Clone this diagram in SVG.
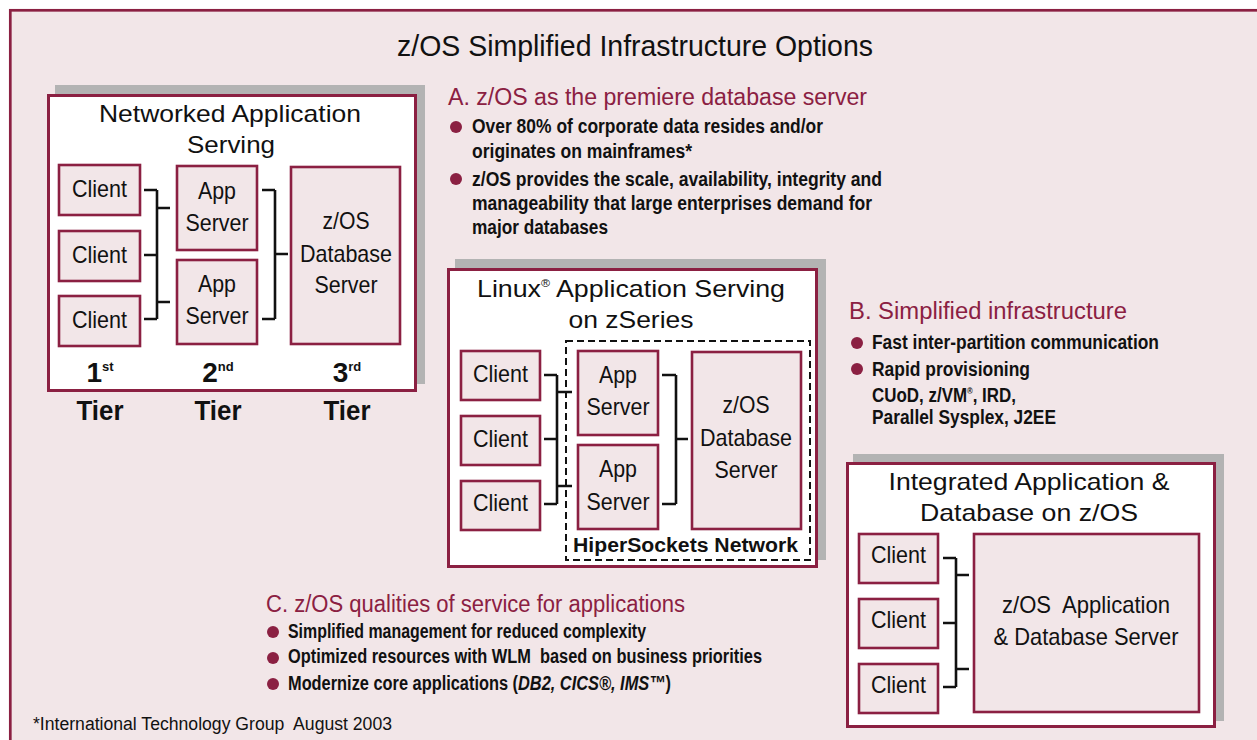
<svg xmlns="http://www.w3.org/2000/svg" width="1257" height="740" viewBox="0 0 1257 740">
<style>
text{font-family:"Liberation Sans",Arial,Helvetica,sans-serif;fill:#111}
.frame{fill:#fff;stroke:#8B2042;stroke-width:3}
.shadow{fill:#b3b3b3}
.node{fill:#F2E6E8;stroke:#8B2042;stroke-width:2.6}
.lbl{font-size:24px;text-anchor:middle}
.ttl{font-size:24px;text-anchor:middle}
.tier{font-size:28px;font-weight:bold;text-anchor:middle}
.head{font-size:23.5px;fill:#8B2042}
.bul{font-size:20px;font-weight:bold}
.dot{fill:#8B2042}
.conn{fill:none;stroke:#111;stroke-width:2.6}
</style>
<rect x="0" y="0" width="1257" height="740" fill="#fff"/>
<rect x="10.3" y="10.3" width="1260" height="740" fill="#F2E6E8" stroke="#8B2042" stroke-width="2.7"/>
<text x="635" y="56" font-size="29" text-anchor="middle" textLength="476" lengthAdjust="spacingAndGlyphs">z/OS Simplified Infrastructure Options</text>

<g id="networked">
<rect class="shadow" x="55" y="85" width="370" height="299"/>
<rect class="frame" x="48.5" y="95.5" width="367" height="295"/>
<text class="ttl" x="230" y="122" textLength="262" lengthAdjust="spacingAndGlyphs">Networked Application</text>
<text class="ttl" x="231" y="153" textLength="88" lengthAdjust="spacingAndGlyphs">Serving</text>
<text class="tier" x="100" y="382">1<tspan font-size="13" dy="-11">st</tspan></text>
<text class="tier" x="218" y="382">2<tspan font-size="13" dy="-11">nd</tspan></text>
<text class="tier" x="347" y="382">3<tspan font-size="13" dy="-11">rd</tspan></text>
<text class="tier" x="100" y="420" textLength="47" lengthAdjust="spacingAndGlyphs">Tier</text>
<text class="tier" x="218" y="420" textLength="47" lengthAdjust="spacingAndGlyphs">Tier</text>
<text class="tier" x="347" y="420" textLength="47" lengthAdjust="spacingAndGlyphs">Tier</text>
</g>
<g id="n-client1"><rect class="node" x="59" y="165" width="81" height="50"/><text class="lbl" x="99.5" y="197" textLength="55" lengthAdjust="spacingAndGlyphs">Client</text></g>
<g id="n-client2"><rect class="node" x="59" y="231" width="81" height="50"/><text class="lbl" x="99.5" y="263" textLength="55" lengthAdjust="spacingAndGlyphs">Client</text></g>
<g id="n-client3"><rect class="node" x="59" y="296" width="81" height="50"/><text class="lbl" x="99.5" y="328" textLength="55" lengthAdjust="spacingAndGlyphs">Client</text></g>
<g id="n-app1"><rect class="node" x="177" y="166" width="80" height="84"/><text class="lbl" x="217" y="199" textLength="38" lengthAdjust="spacingAndGlyphs">App</text><text class="lbl" x="217" y="231" textLength="63" lengthAdjust="spacingAndGlyphs">Server</text></g>
<g id="n-app2"><rect class="node" x="177" y="260" width="80" height="84"/><text class="lbl" x="217" y="292" textLength="38" lengthAdjust="spacingAndGlyphs">App</text><text class="lbl" x="217" y="324" textLength="63" lengthAdjust="spacingAndGlyphs">Server</text></g>
<g id="n-db"><rect class="node" x="291" y="167" width="109" height="177"/><text class="lbl" x="346" y="229" textLength="47" lengthAdjust="spacingAndGlyphs">z/OS</text><text class="lbl" x="346" y="262" textLength="92" lengthAdjust="spacingAndGlyphs">Database</text><text class="lbl" x="346" y="293" textLength="63" lengthAdjust="spacingAndGlyphs">Server</text></g>

<g id="linux">
<rect class="shadow" x="455" y="259" width="371" height="301"/>
<rect class="frame" x="448.5" y="269.5" width="368" height="297"/>
<text class="ttl" x="631" y="297" textLength="308" lengthAdjust="spacingAndGlyphs">Linux<tspan font-size="11" dy="-10">®</tspan><tspan dy="10"> Application Serving</tspan></text>
<text class="ttl" x="631" y="328" textLength="125" lengthAdjust="spacingAndGlyphs">on zSeries</text>
<rect x="566" y="341" width="244" height="219" fill="none" stroke="#111" stroke-width="2" stroke-dasharray="7,4"/>
<text x="573" y="552" font-size="20" font-weight="bold" textLength="225" lengthAdjust="spacingAndGlyphs">HiperSockets Network</text>
</g>
<g id="l-client1"><rect class="node" x="461" y="351" width="79" height="49"/><text class="lbl" x="500.5" y="382" textLength="55" lengthAdjust="spacingAndGlyphs">Client</text></g>
<g id="l-client2"><rect class="node" x="461" y="416" width="79" height="49"/><text class="lbl" x="500.5" y="447" textLength="55" lengthAdjust="spacingAndGlyphs">Client</text></g>
<g id="l-client3"><rect class="node" x="461" y="481" width="79" height="49"/><text class="lbl" x="500.5" y="511" textLength="55" lengthAdjust="spacingAndGlyphs">Client</text></g>
<g id="l-app1"><rect class="node" x="578" y="351" width="80" height="84"/><text class="lbl" x="618" y="383" textLength="38" lengthAdjust="spacingAndGlyphs">App</text><text class="lbl" x="618" y="415" textLength="63" lengthAdjust="spacingAndGlyphs">Server</text></g>
<g id="l-app2"><rect class="node" x="578" y="445" width="80" height="84"/><text class="lbl" x="618" y="477" textLength="38" lengthAdjust="spacingAndGlyphs">App</text><text class="lbl" x="618" y="510" textLength="63" lengthAdjust="spacingAndGlyphs">Server</text></g>
<g id="l-db"><rect class="node" x="692" y="352" width="109" height="177"/><text class="lbl" x="746" y="413" textLength="47" lengthAdjust="spacingAndGlyphs">z/OS</text><text class="lbl" x="746" y="446" textLength="92" lengthAdjust="spacingAndGlyphs">Database</text><text class="lbl" x="746" y="478" textLength="63" lengthAdjust="spacingAndGlyphs">Server</text></g>

<g id="integrated">
<rect class="shadow" x="853" y="454" width="371" height="267"/>
<rect class="frame" x="847.5" y="463.5" width="367" height="263"/>
<text class="ttl" x="1029" y="490" textLength="281" lengthAdjust="spacingAndGlyphs">Integrated Application &amp;</text>
<text class="ttl" x="1029" y="521" textLength="218" lengthAdjust="spacingAndGlyphs">Database on z/OS</text>
</g>
<g id="i-client1"><rect class="node" x="859" y="534" width="79" height="49"/><text class="lbl" x="898.5" y="563" textLength="55" lengthAdjust="spacingAndGlyphs">Client</text></g>
<g id="i-client2"><rect class="node" x="859" y="599" width="79" height="49"/><text class="lbl" x="898.5" y="628" textLength="55" lengthAdjust="spacingAndGlyphs">Client</text></g>
<g id="i-client3"><rect class="node" x="859" y="664" width="79" height="49"/><text class="lbl" x="898.5" y="693" textLength="55" lengthAdjust="spacingAndGlyphs">Client</text></g>
<g id="i-server"><rect class="node" x="974" y="534" width="225" height="178"/><text class="lbl" x="1086" y="613" textLength="168" lengthAdjust="spacingAndGlyphs">z/OS&#160; Application</text><text class="lbl" x="1086" y="645" textLength="185" lengthAdjust="spacingAndGlyphs">&amp; Database Server</text></g>

<g id="connectors">
<path class="conn" d="M144 190H157M144 255H157M144 319H157M157 190V319M157 208H170M157 302H170M262 190H275M262 319H275M275 190V319M275 254H288"/>
<path class="conn" d="M544 375H557M544 439H557M544 504H557M557 375V504M557 392H572M557 486H572M662 375H676M662 504H676M676 375V504M676 439H688"/>
<path class="conn" d="M943 558H956M943 623H956M943 687H956M956 558V687M956 575H969M956 669H969"/>
</g>

<g id="sectionA">
<text class="head" x="448" y="105" textLength="419" lengthAdjust="spacingAndGlyphs">A. z/OS as the premiere database server</text>
<circle class="dot" cx="456" cy="127" r="6"/>
<circle class="dot" cx="456" cy="179" r="6"/>
<text class="bul" x="472" y="133" textLength="351" lengthAdjust="spacingAndGlyphs">Over 80% of corporate data resides and/or</text>
<text class="bul" x="472" y="158" textLength="220" lengthAdjust="spacingAndGlyphs">originates on mainframes*</text>
<text class="bul" x="472" y="186" textLength="410" lengthAdjust="spacingAndGlyphs">z/OS provides the scale, availability, integrity and</text>
<text class="bul" x="472" y="210" textLength="400" lengthAdjust="spacingAndGlyphs">manageability that large enterprises demand for</text>
<text class="bul" x="472" y="234" textLength="136" lengthAdjust="spacingAndGlyphs">major databases</text>
</g>

<g id="sectionB">
<text class="head" x="849" y="319" textLength="278" lengthAdjust="spacingAndGlyphs">B. Simplified infrastructure</text>
<circle class="dot" cx="857" cy="343" r="6"/>
<circle class="dot" cx="857" cy="369" r="6"/>
<text class="bul" x="872" y="349" textLength="287" lengthAdjust="spacingAndGlyphs">Fast inter-partition communication</text>
<text class="bul" x="872" y="376" textLength="158" lengthAdjust="spacingAndGlyphs">Rapid provisioning</text>
<text class="bul" x="872" y="402" textLength="144" lengthAdjust="spacingAndGlyphs">CUoD, z/VM<tspan font-size="9" dy="-8">®</tspan><tspan dy="8">, IRD,</tspan></text>
<text class="bul" x="872" y="424" textLength="184" lengthAdjust="spacingAndGlyphs">Parallel Sysplex, J2EE</text>
</g>

<g id="sectionC">
<text class="head" x="266" y="612" textLength="419" lengthAdjust="spacingAndGlyphs">C. z/OS qualities of service for applications</text>
<circle class="dot" cx="273" cy="632" r="6"/>
<circle class="dot" cx="273" cy="658" r="6"/>
<circle class="dot" cx="273" cy="684" r="6"/>
<text class="bul" x="288" y="638" textLength="358" lengthAdjust="spacingAndGlyphs">Simplified management for reduced complexity</text>
<text class="bul" x="288" y="663" textLength="474" lengthAdjust="spacingAndGlyphs">Optimized resources with WLM&#160; based on business priorities</text>
<text class="bul" x="288" y="690" textLength="383" lengthAdjust="spacingAndGlyphs">Modernize core applications (<tspan font-style="italic">DB2, CICS®, IMS™</tspan>)</text>
</g>

<text x="33" y="730" font-size="18" textLength="359" lengthAdjust="spacingAndGlyphs">*International Technology Group&#160; August 2003</text>
</svg>
